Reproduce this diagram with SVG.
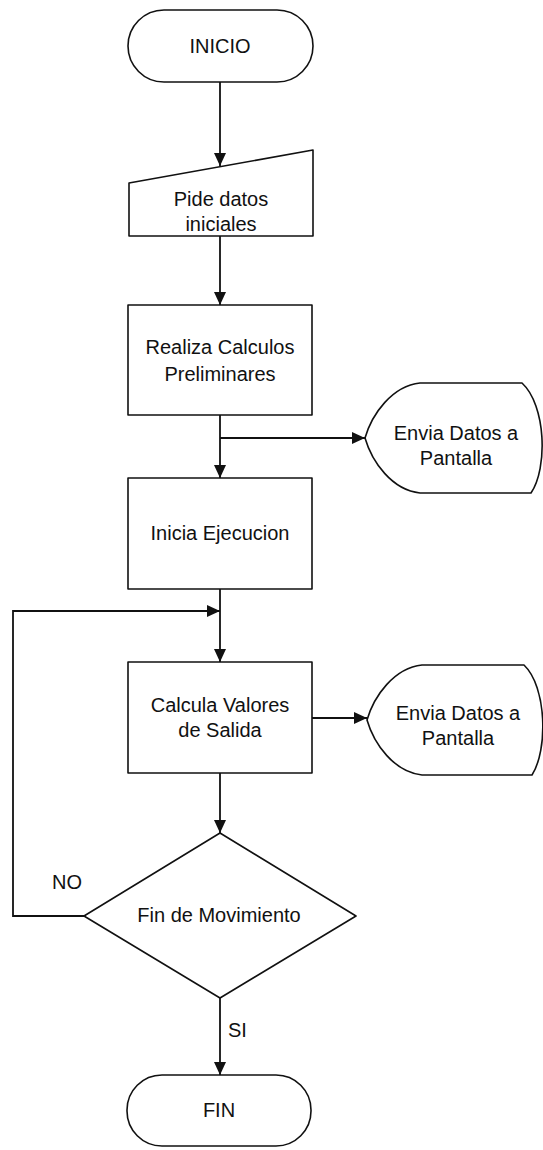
<svg xmlns="http://www.w3.org/2000/svg" width="543" height="1150" viewBox="0 0 543 1150">
  <defs>
    <style>
      .shape { fill: #ffffff; stroke: #111111; stroke-width: 1.6; stroke-linejoin: round; }
      .wire { fill: none; stroke: #111111; stroke-width: 1.8; }
      .label { font-family: "Liberation Sans", Arial, sans-serif; font-size: 20px; fill: #111111; text-anchor: middle; }
      .tag { font-family: "Liberation Sans", Arial, sans-serif; font-size: 20px; fill: #111111; }
    </style>
    <marker id="arrow" markerUnits="userSpaceOnUse" markerWidth="14" markerHeight="12" refX="13" refY="6" orient="auto">
      <path d="M0,0 L13,6 L0,12 Z" fill="#111111"/>
    </marker>
  </defs>
  <rect width="543" height="1150" fill="#ffffff"/>

  <!-- connectors -->
  <g id="connectors">
    <path class="wire" d="M220,82 L220,166" marker-end="url(#arrow)"/>
    <path class="wire" d="M220,236 L220,305" marker-end="url(#arrow)"/>
    <path class="wire" d="M220,415 L220,478" marker-end="url(#arrow)"/>
    <path class="wire" d="M220,438 L365,438" marker-end="url(#arrow)"/>
    <path class="wire" d="M220,589 L220,662" marker-end="url(#arrow)"/>
    <path class="wire" d="M312,718 L367,718" marker-end="url(#arrow)"/>
    <path class="wire" d="M220,773 L220,833" marker-end="url(#arrow)"/>
    <path class="wire" d="M84,916 L13,916 L13,611 L220,611" marker-end="url(#arrow)"/>
    <path class="wire" d="M220,998 L220,1075" marker-end="url(#arrow)"/>
    <text class="tag" x="52" y="889">NO</text>
    <text class="tag" x="228" y="1037">SI</text>
  </g>

  <!-- start terminal -->
  <g id="inicio">
    <rect class="shape" x="128" y="10" width="185" height="72" rx="36" ry="36"/>
    <text class="label" x="220" y="53">INICIO</text>
  </g>

  <!-- manual input -->
  <g id="pide-datos">
    <path class="shape" d="M129,183 L313,150 L313,236 L129,236 Z"/>
    <text class="label" x="221" y="206">Pide datos</text>
    <text class="label" x="221" y="231">iniciales</text>
  </g>

  <!-- process: preliminary calculations -->
  <g id="realiza-calculos">
    <rect class="shape" x="128" y="305" width="184" height="110"/>
    <text class="label" x="220" y="354">Realiza Calculos</text>
    <text class="label" x="220" y="381">Preliminares</text>
  </g>

  <!-- display: first output -->
  <g id="envia-datos-1">
    <path class="shape" d="M420,383 L522,383 C546,405 548,468 531,493 L420,493 C392,490 372,462 365,438 C372,414 392,386 420,383 Z"/>
    <text class="label" x="456" y="440">Envia Datos a</text>
    <text class="label" x="456" y="465">Pantalla</text>
  </g>

  <!-- process: start execution -->
  <g id="inicia-ejecucion">
    <rect class="shape" x="128" y="478" width="184" height="111"/>
    <text class="label" x="220" y="540">Inicia Ejecucion</text>
  </g>

  <!-- process: output values -->
  <g id="calcula-valores">
    <rect class="shape" x="128" y="662" width="184" height="111"/>
    <text class="label" x="220" y="712">Calcula Valores</text>
    <text class="label" x="220" y="737">de Salida</text>
  </g>

  <!-- display: second output -->
  <g id="envia-datos-2">
    <path class="shape" d="M422,665 L524,665 C547,687 548,750 532,775 L422,775 C394,772 374,744 367,720 C374,696 394,668 422,665 Z"/>
    <text class="label" x="458" y="720">Envia Datos a</text>
    <text class="label" x="458" y="745">Pantalla</text>
  </g>

  <!-- decision -->
  <g id="fin-movimiento">
    <path class="shape" d="M220,833 L356,916 L220,998 L84,916 Z"/>
    <text class="label" x="219" y="922">Fin de Movimiento</text>
  </g>

  <!-- end terminal -->
  <g id="fin">
    <rect class="shape" x="127" y="1075" width="184" height="71" rx="35" ry="35"/>
    <text class="label" x="219" y="1117">FIN</text>
  </g>
</svg>
